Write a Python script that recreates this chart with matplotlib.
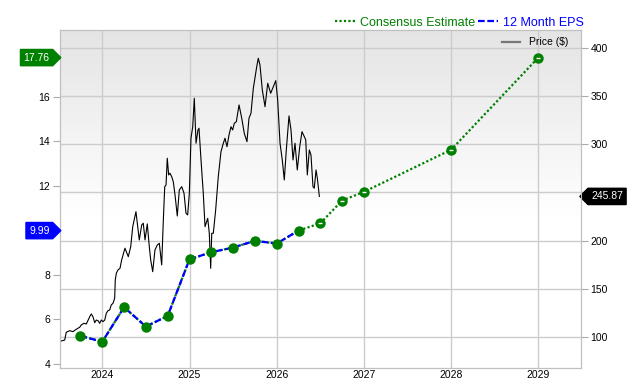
import matplotlib
matplotlib.use("Agg")
import matplotlib.pyplot as plt
from matplotlib.path import Path
import numpy as np

plt.rcParams['font.family'] = ['Liberation Sans', 'DejaVu Sans']

# quarterly / annual EPS points (decimal year)
eps_x = [2023.75, 2024.0, 2024.25, 2024.5, 2024.75, 2025.0, 2025.25, 2025.5,
         2025.75, 2026.0, 2026.25, 2026.5, 2026.75, 2027.0, 2028.0, 2029.0]
eps_y = [5.26, 5.00, 6.55, 5.68, 6.16, 8.70, 9.02, 9.23,
         9.53, 9.41, 9.99, 10.32, 11.34, 11.73, 13.62, 17.76]
n_actual = 11

price_x = [2023.530, 2023.569, 2023.587, 2023.626, 2023.664, 2023.702, 2023.741, 2023.759,
           2023.790, 2023.817, 2023.856, 2023.874, 2023.893, 2023.913, 2023.931, 2023.951,
           2023.970, 2023.989, 2024.008, 2024.028, 2024.046, 2024.065, 2024.085, 2024.103,
           2024.123, 2024.142, 2024.149, 2024.161, 2024.180, 2024.203, 2024.222, 2024.260,
           2024.298, 2024.326, 2024.349, 2024.386, 2024.424, 2024.452, 2024.470, 2024.490,
           2024.516, 2024.539, 2024.555, 2024.578, 2024.604, 2024.631, 2024.654, 2024.681,
           2024.700, 2024.716, 2024.731, 2024.745, 2024.761, 2024.776, 2024.796, 2024.814,
           2024.834, 2024.860, 2024.883, 2024.911, 2024.937, 2024.960, 2024.979, 2024.998,
           2025.017, 2025.037, 2025.055, 2025.075, 2025.097, 2025.109, 2025.132, 2025.158,
           2025.178, 2025.209, 2025.227, 2025.243, 2025.255, 2025.273, 2025.300, 2025.330,
           2025.361, 2025.388, 2025.407, 2025.430, 2025.453, 2025.476, 2025.495, 2025.514,
           2025.537, 2025.568, 2025.599, 2025.628, 2025.659, 2025.682, 2025.705, 2025.732,
           2025.759, 2025.771, 2025.789, 2025.808, 2025.835, 2025.866, 2025.897, 2025.931,
           2025.961, 2025.989, 2026.011, 2026.038, 2026.064, 2026.087, 2026.110, 2026.141,
           2026.164, 2026.187, 2026.210, 2026.236, 2026.264, 2026.290, 2026.317, 2026.333,
           2026.351, 2026.374, 2026.393, 2026.416, 2026.431, 2026.451, 2026.466, 2026.489]
price_y = [95.5, 96.5, 104.6, 106.2, 105.2, 107.7, 109.8, 112.2,
           113.9, 113.2, 120.8, 123.6, 120.8, 114.5, 117.3, 116.6,
           113.9, 117.3, 115.6, 117.3, 124.3, 127.0, 127.8, 133.0,
           134.7, 140.0, 159.0, 166.0, 169.4, 171.1, 179.8, 192.0,
           183.2, 193.6, 214.4, 230.0, 200.6, 216.2, 218.0, 200.6,
           217.3, 193.6, 179.8, 167.6, 190.2, 195.4, 197.1, 174.6,
           221.4, 256.0, 257.8, 285.6, 268.2, 270.0, 266.4, 261.2,
           247.4, 225.5, 252.6, 256.0, 249.2, 228.4, 226.6, 249.2,
           306.4, 318.4, 348.0, 301.2, 315.0, 316.8, 283.8, 249.2,
           214.4, 223.1, 207.5, 171.1, 207.5, 207.5, 231.8, 266.4,
           292.4, 301.2, 306.4, 297.6, 309.8, 318.4, 315.0, 322.0,
           323.6, 341.0, 327.2, 311.6, 302.8, 327.2, 332.4, 358.4,
           374.0, 380.9, 389.6, 382.6, 356.6, 339.2, 363.6, 353.2,
           360.0, 366.3, 346.2, 301.2, 283.8, 263.0, 294.2, 329.6,
           315.0, 283.8, 301.2, 273.4, 297.6, 313.2, 308.0, 304.6,
           268.2, 294.2, 289.0, 256.0, 254.4, 273.4, 264.8, 245.87]

years = [2024, 2025, 2026, 2027, 2028, 2029]
eps_ticks = [4, 6, 8, 12, 14, 16]
price_ticks = [100, 150, 200, 250, 300, 350, 400]
price_labels = ['100', '150', '200', '', '300', '350', '400']

green = '#008000'
blue = '#0000ff'
gridc = '#cccccc'


def flag(point):
    # box with a pointed end, like the value tags on the axes
    def style(x0, y0, width, height, mutation_size):
        pad = 0.3 * mutation_size
        x0, y0 = x0 - pad, y0 - pad
        w, h = width + 2 * pad, height + 2 * pad
        tip = h * 0.5
        if point == 'right':
            verts = [(x0, y0), (x0 + w, y0), (x0 + w + tip, y0 + h / 2),
                     (x0 + w, y0 + h), (x0, y0 + h), (x0, y0)]
        else:
            verts = [(x0, y0), (x0 + w, y0), (x0 + w, y0 + h), (x0, y0 + h),
                     (x0 - tip, y0 + h / 2), (x0, y0)]
        return Path(verts, closed=True)
    return style


fig = plt.figure(figsize=(6.4, 3.8), dpi=100)
ax2 = fig.add_axes([0.09375, 0.0316, 0.8136, 0.8895])
ax = ax2.twinx()
ax.yaxis.tick_left()
ax2.yaxis.tick_right()
ax.set_zorder(ax2.get_zorder() + 1)
ax.patch.set_visible(False)

ax2.set_xlim(2023.515, 2029.486)
ax2.set_ylim(67.4, 419)
ax.set_ylim(3.82, 19.0)

# background gradient
grad = np.linspace(0, 1, 256).reshape(-1, 1)
shade = np.clip((grad - 0.45) / 0.55, 0, 1)
img = np.ones((256, 1, 3))
img[:, :, :] = (1 - 0.105 * shade)[:, :, None]
ax2.imshow(img, extent=[0, 1, 0, 1], transform=ax2.transAxes, aspect='auto',
           origin='lower', zorder=0)

for yv in price_ticks:
    ax2.axhline(yv, color=gridc, lw=1, zorder=1)
for xv in years:
    ax2.axvline(xv, color=gridc, lw=1, zorder=1)

ax2.plot(price_x, price_y, color='black', lw=0.8, zorder=3)

# EPS lines
ax.plot(eps_x, eps_y, color=green, ls=(0, (1, 1)), lw=1.6, zorder=3)
ax.plot(eps_x[:n_actual], eps_y[:n_actual], color=blue, ls=(0, (3, 1.2)), lw=1.6, zorder=4)
ax.plot(eps_x, eps_y, 'o', color=green, ms=6.5, zorder=5)
ax.plot(eps_x[n_actual:], eps_y[n_actual:], '_', color='white', ms=3.5, mew=1, zorder=6)

ax2.set_xticks(years)
ax2.set_xticklabels([str(y) for y in years])
ax.set_yticks(eps_ticks)
ax2.set_yticks(price_ticks)
ax2.set_yticklabels(price_labels)

for a in (ax, ax2):
    a.tick_params(axis='both', labelsize=7.5, color='#aaaaaa', length=5, width=0.8, pad=2)
    for s in a.spines.values():
        s.set_color('#c0c0c0')
ax2.tick_params(axis='x', length=0, pad=1.5)

# value flags
ax.text(-0.02, eps_y[-1], '%.2f' % eps_y[-1], transform=ax.get_yaxis_transform(),
        ha='right', va='center', color='white', fontsize=7.5,
        bbox=dict(boxstyle=flag('right'), fc=green, ec=green))
ax.text(-0.02, eps_y[n_actual - 1], '%.2f' % eps_y[n_actual - 1], transform=ax.get_yaxis_transform(),
        ha='right', va='center', color='white', fontsize=7.5,
        bbox=dict(boxstyle=flag('right'), fc=blue, ec=blue))
ax2.text(1.02, price_y[-1], '%.2f' % price_y[-1], transform=ax2.get_yaxis_transform(),
         ha='left', va='center', color='white', fontsize=7.5,
         bbox=dict(boxstyle=flag('left'), fc='black', ec='black'))

# legends
h1, = ax.plot([], [], color=green, ls=(0, (1, 1)), lw=1.6, label='Consensus Estimate')
h2, = ax.plot([], [], color=blue, ls=(0, (3, 1.2)), lw=1.6, label='12 Month EPS')
fig.legend(handles=[h1, h2], loc='lower right', bbox_to_anchor=(0.913, 0.925), ncol=2,
           frameon=False, fontsize=9, labelcolor='linecolor', handlelength=1.6,
           handletextpad=0.4, columnspacing=0.3, borderaxespad=0, borderpad=0)
ph, = ax.plot([], [], color='#777777', lw=1.6, label='Price ($)')
ax.legend(handles=[ph], loc='upper right', frameon=False, fontsize=7.5,
          handlelength=1.8, borderaxespad=0.5, borderpad=0.2, bbox_to_anchor=(0.99, 1.0))

fig.savefig('out.png', dpi=100)
